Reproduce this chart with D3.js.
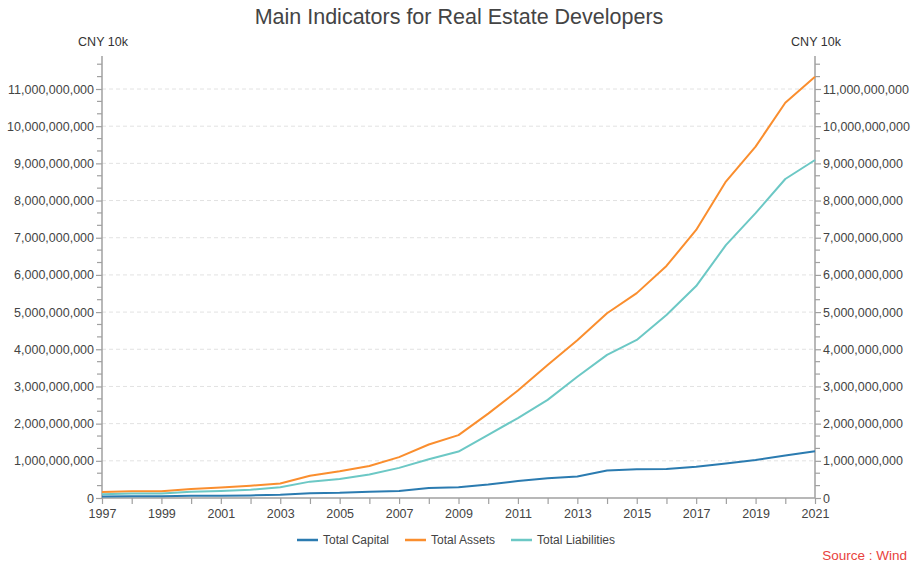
<!DOCTYPE html>
<html>
<head>
<meta charset="utf-8">
<script src="https://cdn.jsdelivr.net/npm/d3@7"></script>
<style>
  html, body { margin: 0; padding: 0; background: #fff; }
  svg { display: block; font-family: "Liberation Sans", Arial, sans-serif; }
</style>
</head>
<body>
<svg id="chart" width="915" height="565"></svg>
<script>
// Years and indicator values (CNY 10k)
const years = [1997, 1998, 1999, 2000, 2001, 2002, 2003, 2004, 2005, 2006, 2007, 2008,
               2009, 2010, 2011, 2012, 2013, 2014, 2015, 2016, 2017, 2018, 2019, 2020, 2021];

const totalCapital = [0.04e9, 0.05e9, 0.05e9, 0.06e9, 0.06e9, 0.07e9, 0.09e9, 0.13e9, 0.14e9,
                      0.17e9, 0.19e9, 0.27e9, 0.29e9, 0.36e9, 0.46e9, 0.53e9, 0.58e9, 0.74e9,
                      0.77e9, 0.78e9, 0.84e9, 0.93e9, 1.02e9, 1.14e9, 1.26e9];

const totalAssets = [0.16e9, 0.18e9, 0.18e9, 0.24e9, 0.28e9, 0.33e9, 0.39e9, 0.60e9, 0.72e9,
                     0.86e9, 1.10e9, 1.44e9, 1.69e9, 2.27e9, 2.89e9, 3.58e9, 4.24e9, 4.97e9,
                     5.51e9, 6.24e9, 7.21e9, 8.51e9, 9.45e9, 10.63e9, 11.33e9];

const totalLiabilities = [0.10e9, 0.12e9, 0.12e9, 0.17e9, 0.19e9, 0.22e9, 0.29e9, 0.44e9, 0.51e9,
                          0.63e9, 0.81e9, 1.04e9, 1.25e9, 1.70e9, 2.15e9, 2.64e9, 3.26e9, 3.85e9,
                          4.25e9, 4.92e9, 5.70e9, 6.80e9, 7.66e9, 8.58e9, 9.09e9];

const seriesNames = ["Total Capital", "Total Assets", "Total Liabilities"];
const seriesColors = ["#2b7bb0", "#fa8e2e", "#6cc8c5"];
const yTickValues = [0, 1e9, 2e9, 3e9, 4e9, 5e9, 6e9, 7e9, 8e9, 9e9, 10e9, 11e9];
const xTickLabels = [1997, 1999, 2001, 2003, 2005, 2007, 2009, 2011, 2013, 2015, 2017, 2019, 2021];

const seriesValues = [totalCapital, totalAssets, totalLiabilities];

const svg = d3.select("#chart");
const margin = { left: 102, right: 100, top: 56, bottom: 67 };
const width = 915, height = 565;
const plotL = margin.left, plotR = width - margin.right;
const plotB = height - margin.bottom;

const x = d3.scaleLinear().domain([1997, 2021]).range([plotL, plotR]);
// 0 at the baseline, 11e9 at the top gridline
const y = d3.scaleLinear().domain([0, 11e9]).range([plotB, 89]);
const yTopValue = y.invert(margin.top);

const axisColor = "#a0a0a0";
const textColor = "#444";
const fmt = d3.format(",");

// Title
svg.append("text")
  .attr("x", 459).attr("y", 24)
  .attr("text-anchor", "middle")
  .attr("font-size", 21.5)
  .attr("fill", "#444")
  .text("Main Indicators for Real Estate Developers");

// Unit labels
[plotL, plotR].forEach(px => {
  svg.append("text")
    .attr("x", px + 1).attr("y", 46)
    .attr("text-anchor", "middle")
    .attr("font-size", 12.5)
    .attr("fill", "#333")
    .text("CNY 10k");
});

// Dashed horizontal gridlines
svg.append("g")
  .selectAll("line")
  .data(yTickValues.filter(v => v > 0))
  .join("line")
  .attr("x1", plotL).attr("x2", plotR)
  .attr("y1", d => y(d)).attr("y2", d => y(d))
  .attr("stroke", "#e2e2e2")
  .attr("stroke-width", 1)
  .attr("stroke-dasharray", "4,3");

// Minor y ticks every third of a major step
const minorTicks = d3.range(0, Math.floor(yTopValue / (1e9 / 3)) + 1)
  .map(i => i * 1e9 / 3)
  .filter((v, i) => i % 3 !== 0);

function styleAxis(g) {
  g.selectAll(".domain").attr("stroke", axisColor).attr("stroke-width", 1.5);
  g.selectAll(".tick line").attr("stroke", axisColor).attr("stroke-width", 1.2);
  g.selectAll(".tick text").attr("fill", textColor).attr("font-size", 12.5)
    .attr("font-family", "\"Liberation Sans\", Arial, sans-serif");
}

const yAxisScale = y.copy().domain([0, yTopValue]).range([plotB, margin.top]);

// Left axis
const gLeft = svg.append("g").attr("transform", `translate(${plotL},0)`)
  .call(d3.axisLeft(yAxisScale).tickValues(yTickValues).tickFormat(fmt).tickSize(6).tickPadding(2));
gLeft.append("g").selectAll("line").data(minorTicks).join("line")
  .attr("x1", -5).attr("x2", 0).attr("y1", d => y(d)).attr("y2", d => y(d))
  .attr("stroke", axisColor).attr("stroke-width", 1.2);
styleAxis(gLeft);
gLeft.select(".domain").attr("d", `M0,${margin.top}V${plotB}`);

// Right axis
const gRight = svg.append("g").attr("transform", `translate(${plotR},0)`)
  .call(d3.axisRight(yAxisScale).tickValues(yTickValues).tickFormat(fmt).tickSize(6).tickPadding(2));
gRight.append("g").selectAll("line").data(minorTicks).join("line")
  .attr("x1", 0).attr("x2", 5).attr("y1", d => y(d)).attr("y2", d => y(d))
  .attr("stroke", axisColor).attr("stroke-width", 1.2);
styleAxis(gRight);
gRight.select(".domain").attr("d", `M0,${margin.top}V${plotB}`);

// Bottom axis: tick every year, label every other year
const gBottom = svg.append("g").attr("transform", `translate(0,${plotB})`)
  .call(d3.axisBottom(x).tickValues(years).tickSize(6).tickPadding(5)
    .tickFormat(d => xTickLabels.includes(d) ? String(d) : ""));
styleAxis(gBottom);
gBottom.select(".domain").attr("d", `M${plotL},0H${plotR}`);

// Lines
const line = d3.line()
  .x((d, i) => x(years[i]))
  .y(d => y(d));

svg.append("g")
  .selectAll("path")
  .data(seriesValues)
  .join("path")
  .attr("d", d => line(d))
  .attr("fill", "none")
  .attr("stroke", (d, i) => seriesColors[i])
  .attr("stroke-width", 2)
  .attr("stroke-linejoin", "round");

// Legend
const legendItems = [
  { name: seriesNames[0], color: seriesColors[0], x: 297 },
  { name: seriesNames[1], color: seriesColors[1], x: 405 },
  { name: seriesNames[2], color: seriesColors[2], x: 511 }
];
const legend = svg.append("g").attr("transform", "translate(0,540)");
legendItems.forEach(item => {
  legend.append("line")
    .attr("x1", item.x).attr("x2", item.x + 21)
    .attr("y1", 0).attr("y2", 0)
    .attr("stroke", item.color).attr("stroke-width", 2.5);
  legend.append("text")
    .attr("x", item.x + 26).attr("y", 4)
    .attr("font-size", 12)
    .attr("fill", textColor)
    .text(item.name);
});

// Source note
svg.append("text")
  .attr("x", 907).attr("y", 560)
  .attr("text-anchor", "end")
  .attr("font-size", 13.5)
  .attr("fill", "#e8423c")
  .text("Source : Wind");
</script>
</body>
</html>
